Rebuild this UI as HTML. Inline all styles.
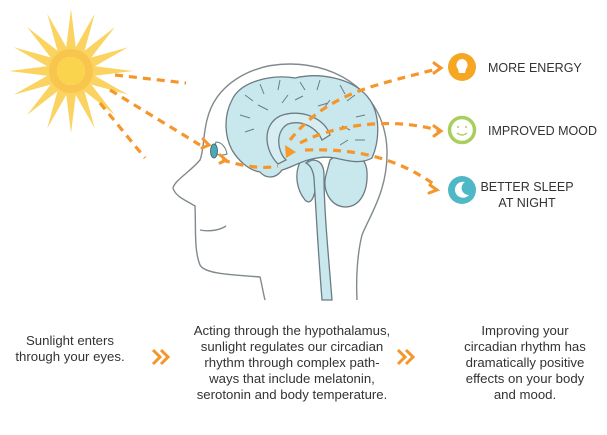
<!DOCTYPE html>
<html><head><style>
body{margin:0;width:607px;height:430px;background:#fff;overflow:hidden;font-family:"Liberation Sans",sans-serif;}
</style></head><body>
<svg width="607" height="430" viewBox="0 0 607 430" xmlns="http://www.w3.org/2000/svg">
<!-- sun -->
<g transform="translate(71,71)">
<g fill="#f9c93a" opacity="0.8">
<polygon points="0,-62 6,-14 -6,-14"/><polygon points="0,-62 6,-14 -6,-14" transform="rotate(22.5)"/>
<polygon points="0,-62 6,-14 -6,-14" transform="rotate(45)"/><polygon points="0,-62 6,-14 -6,-14" transform="rotate(67.5)"/>
<polygon points="0,-62 6,-14 -6,-14" transform="rotate(90)"/><polygon points="0,-62 6,-14 -6,-14" transform="rotate(112.5)"/>
<polygon points="0,-62 6,-14 -6,-14" transform="rotate(135)"/><polygon points="0,-62 6,-14 -6,-14" transform="rotate(157.5)"/>
<polygon points="0,-62 6,-14 -6,-14" transform="rotate(180)"/><polygon points="0,-62 6,-14 -6,-14" transform="rotate(202.5)"/>
<polygon points="0,-62 6,-14 -6,-14" transform="rotate(225)"/><polygon points="0,-62 6,-14 -6,-14" transform="rotate(247.5)"/>
<polygon points="0,-62 6,-14 -6,-14" transform="rotate(270)"/><polygon points="0,-62 6,-14 -6,-14" transform="rotate(292.5)"/>
<polygon points="0,-62 6,-14 -6,-14" transform="rotate(315)"/><polygon points="0,-62 6,-14 -6,-14" transform="rotate(337.5)"/>
</g>
<circle r="22" fill="#f7b632" opacity="0.45"/>
<circle r="14" fill="#fbd44e"/>
</g>
<!-- head outline -->
<g fill="none" stroke="#808a8e" stroke-width="1.4">
<path d="M207,120 C215,85 250,64 290,64 C340,64 385,95 387,150 C388,190 370,215 362,235 C357,255 356,280 357,300"/>
<path d="M207,120 C203,135 204,150 200,160 C190,172 175,180 173,188 C175,196 185,200 195,206 C196,230 194,250 200,265 C205,275 240,275 260,277 C262,285 263,292 265,300"/>
<path d="M200,230 C210,232 220,230 226,226"/>
</g>
<!-- brain -->
<g stroke="#6c7c82" stroke-width="1.3" fill="#c8e8ee">
<path d="M330,160 C345,148 366,152 367,172 C368,192 360,207 345,207 C330,206 322,190 326,175 Z"/>
<path d="M300,162 C314,156 318,170 316,185 C314,200 310,205 305,200 C297,190 294,175 300,162 Z"/>
<path d="M232,100 C240,82 270,74 295,78 C320,72 355,78 370,100 C380,115 380,140 372,158 C360,165 345,160 335,158 C325,156 315,158 308,160 C300,162 290,168 282,170 C275,180 265,178 260,172 C248,170 238,160 232,150 C224,135 224,115 232,100 Z"/>
<path d="M312,160 C320,160 324,165 324,175 C324,210 328,250 332,300 L322,300 C318,250 316,210 314,178 C313,170 310,165 306,163 Z"/>
<path d="M278,164 C264,150 262,125 280,116 C300,108 325,118 330,135 L322,140 C316,126 300,120 288,124 C276,130 276,150 286,160 Z" fill="#d6eef2"/>
</g>
<g stroke="#6c7c82" stroke-width="1" fill="none">
<path d="M245,95 l8,6 M260,84 l4,10 M280,80 l-2,10 M300,82 l5,8 M320,80 l-3,10 M340,85 l5,9 M355,95 l-8,6 M365,115 l-9,2 M240,115 l10,3 M245,132 l9,-3 M258,105 l10,5 M295,100 l8,-4 M330,100 l-6,8 M350,130 l-8,-4 M288,95 l-6,8 M318,106 l10,-3 M365,140 l-10,0 M340,145 l8,-5"/>
</g>
<polygon points="285,145 296,152 286,158" fill="#f59a2b"/>
<!-- eye -->
<path d="M216,142 C222,142 226,148 227,154 C222,156 216,155 213,152 Z" fill="#fff" stroke="#6c7c82"/>
<ellipse cx="214" cy="151" rx="3.5" ry="7" fill="#4fa8b8" stroke="#4a6b75"/>
<!-- rays -->
<g stroke="#f5962b" stroke-width="3.2" stroke-dasharray="8,6" fill="none">
<line x1="115" y1="75" x2="186" y2="83"/>
<line x1="110" y1="90" x2="200" y2="145"/>
<line x1="100" y1="103" x2="145" y2="158"/>
<path d="M222,160 C240,165 260,170 278,166"/>
<path d="M290,140 C330,90 380,85 440,68"/>
<path d="M300,143 C340,122 400,118 440,131"/>
<path d="M305,150 C360,148 400,160 435,185"/>
</g>
<g stroke="#f5962b" stroke-width="3" fill="none" stroke-linecap="round">
<path d="M434,63 l7,5 l-7,5"/><path d="M434,126 l7,5 l-7,5"/><path d="M430,185 l7,5 l-8,3"/>
<path d="M203,139 l6,6 l-7,3"/><path d="M220,155 l6,5 l-6,3"/>
</g>
<!-- icons -->
<circle cx="462" cy="67" r="14" fill="#f5a623"/>
<path d="M462,59 a6,6 0 0 1 4,10 l-1,4 h-6 l-1,-4 a6,6 0 0 1 4,-10z" fill="#fff"/>
<circle cx="462" cy="130" r="12.5" fill="#fff" stroke="#a8cf5e" stroke-width="3.5"/>
<circle cx="458" cy="127" r="1" fill="#a8cf5e"/><circle cx="466" cy="127" r="1" fill="#a8cf5e"/>
<path d="M457,133 q5,4 10,0" stroke="#a8cf5e" stroke-width="1.4" fill="none"/>
<circle cx="462" cy="190" r="14" fill="#4fb8c6"/>
<path d="M465,182 a8,8 0 1 0 4,13 a7,7 0 0 1 -4,-13z" fill="#fff"/>
<g font-size="12.5" fill="#333" font-family="Liberation Sans, sans-serif">
<text x="488" y="72">MORE ENERGY</text>
<text x="488" y="135">IMPROVED MOOD</text>
<text x="527" y="191" text-anchor="middle">BETTER SLEEP</text>
<text x="527" y="207" text-anchor="middle">AT NIGHT</text>
</g>
<g font-size="13.2" fill="#333" text-anchor="middle" font-family="Liberation Sans, sans-serif">
<text x="70" y="345">Sunlight enters</text><text x="70" y="361">through your eyes.</text>
<text x="292" y="335">Acting through the hypothalamus,</text>
<text x="292" y="351">sunlight regulates our circadian</text>
<text x="292" y="367">rhythm through complex path-</text>
<text x="292" y="383">ways that include melatonin,</text>
<text x="292" y="399">serotonin and body temperature.</text>
<text x="525" y="335">Improving your</text>
<text x="525" y="351">circadian rhythm has</text>
<text x="525" y="367">dramatically positive</text>
<text x="525" y="383">effects on your body</text>
<text x="525" y="399">and mood.</text>
</g>
<g stroke="#f5962b" stroke-width="3" fill="none">
<path d="M153,350 l7,7 l-7,7 M161,350 l7,7 l-7,7"/>
<path d="M398,350 l7,7 l-7,7 M406,350 l7,7 l-7,7"/>
</g>
</svg>
</body></html>
